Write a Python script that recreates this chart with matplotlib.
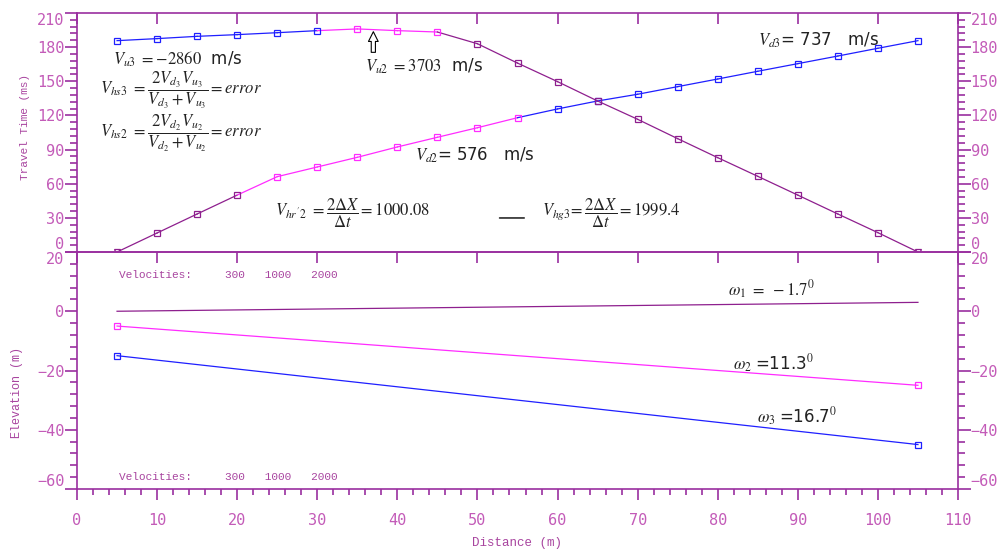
import numpy as np
import matplotlib
matplotlib.use('Agg')
from matplotlib import pyplot as plt
from matplotlib.ticker import MultipleLocator


# Travel time data (ms) for the forward shot (at 5 m) and reverse shot (at 105 m)
distance = [5, 10, 15, 20, 25, 30, 35, 40, 45, 50, 55, 60, 65, 70, 75, 80, 85, 90, 95, 100, 105]
time_forward = [0, 16.7, 33.4, 50, 66.2, 74.7, 83.2, 92.3, 100.8, 109.2, 118, 125.7, 132.7,
                138.6, 145.3, 152, 158.8, 165.5, 172.2, 179, 185.7]
time_reverse = [185.7, 187.5, 189.5, 191, 192.7, 194.5, 196, 194.5, 193.3, 183, 166, 149.7,
                132.7, 116.6, 99.6, 82.9, 66.5, 50, 33.4, 17, 0]
# layer assigned to each pick (1 = direct, 2 = first refractor, 3 = second refractor)
layer_forward = [1, 1, 1, 1, 2, 2, 2, 2, 2, 2, 2, 3, 3, 3, 3, 3, 3, 3, 3, 3, 3]
layer_reverse = [3, 3, 3, 3, 3, 3, 2, 2, 2, 1, 1, 1, 1, 1, 1, 1, 1, 1, 1, 1, 1]

# Elevation model (m)
elev_x = [5, 105]
elev_surface = [0, 3]
elev_layer2 = [-5, -25]
elev_layer3 = [-15, -45]

AXIS_COLOR = '#9a2f9f'
TICK_COLOR = '#c35bb8'
LABEL_COLOR = '#a8449f'
layer_colors = {1: '#8e1f8e', 2: '#ff2cff', 3: '#1f1fff'}

plt.rcParams['mathtext.fontset'] = 'stix'

fig = plt.figure(figsize=(9.98, 5.49), dpi=100)
ax_t = fig.add_axes([77 / 998, (549 - 252) / 549, 881 / 998, 239 / 549])
ax_e = fig.add_axes([77 / 998, (549 - 489) / 549, 881 / 998, 237 / 549])


def drawCurve(ax, x, t, layers):
  # segment colour follows the layer of its right-hand pick
  for i in range(len(x) - 1):
    ax.plot(x[i:i + 2], t[i:i + 2], color=layer_colors[layers[i + 1]], lw=0.9, zorder=2)
  for xi, ti, li in zip(x, t, layers):
    mk = 'v' if ti == 0 else 's'
    ax.plot(xi, ti, marker=mk, ms=5, mfc='none', mec=layer_colors[li], mew=0.9,
            clip_on=False, zorder=3)


drawCurve(ax_t, distance, time_forward, layer_forward)
drawCurve(ax_t, distance, time_reverse, layer_reverse)

ax_e.plot(elev_x, elev_surface, color=layer_colors[1], lw=0.9)
ax_e.plot(elev_x, elev_layer2, color=layer_colors[2], lw=0.9, marker='s', ms=5, mfc='none', mew=0.9)
ax_e.plot(elev_x, elev_layer3, color=layer_colors[3], lw=0.9, marker='s', ms=5, mfc='none', mew=0.9)

# axes styling
for ax in (ax_t, ax_e):
  ax.set_xlim(0, 110)
  ax.xaxis.set_major_locator(MultipleLocator(10))
  for sp in ax.spines.values():
    sp.set_color(AXIS_COLOR)
    sp.set_linewidth(1.2)
  ax.tick_params(axis='y', which='both', left=True, right=True, labelleft=True, labelright=True,
                 direction='out', color=AXIS_COLOR, labelcolor=TICK_COLOR, width=1.2)
  ax.tick_params(axis='y', which='major', length=9, pad=0)
  ax.tick_params(axis='y', which='minor', length=5)

ax_t.set_ylim(0, 210)
ax_t.set_yticks(np.arange(0, 211, 30))
ax_t.yaxis.set_minor_locator(MultipleLocator(6))
ax_t.tick_params(axis='x', which='major', top=True, bottom=False, labelbottom=False,
                 direction='in', length=8, color=AXIS_COLOR, width=1.2)
ax_t.spines['bottom'].set_visible(False)

ax_e.set_ylim(-60, 20)
ax_e.set_yticks(np.arange(-60, 21, 20))
ax_e.yaxis.set_minor_locator(MultipleLocator(4))
ax_e.xaxis.set_minor_locator(MultipleLocator(2))
ax_e.tick_params(axis='x', which='both', top=False, bottom=True, direction='out',
                 color=AXIS_COLOR, width=1.2, labelcolor=TICK_COLOR, labelsize=11)
ax_e.tick_params(axis='x', which='major', length=8, pad=9)
ax_e.tick_params(axis='x', which='minor', length=4)
for lab in ax_e.get_xticklabels():
  lab.set_family('DejaVu Sans Mono')

# ticks hanging down from the shared border
sec = ax_e.secondary_xaxis('top')
sec.set_xticks(np.arange(0, 111, 10))
sec.tick_params(axis='x', direction='in', length=8, width=1.2, color=AXIS_COLOR, labeltop=False)
sec.spines['top'].set_color(AXIS_COLOR)
sec.spines['top'].set_linewidth(1.2)

# nudge the end labels inside the frame like the original
for ax in (ax_t, ax_e):
  ticks = ax.yaxis.get_major_ticks()
  for tk in ticks:
    tk.label1.set_family('DejaVu Sans Mono')
    tk.label2.set_family('DejaVu Sans Mono')
    tk.label1.set_fontsize(11)
    tk.label2.set_fontsize(11)
  ticks[0].label1.set_va('bottom')
  ticks[0].label2.set_va('bottom')
  ticks[-1].label1.set_va('top')
  ticks[-1].label2.set_va('top')

# axis titles
fig.text(25 / 998, 1 - 127 / 549, 'Travel Time (ms)', rotation=90, ha='center', va='center',
         family='Liberation Mono', fontsize=8, color=LABEL_COLOR)
fig.text(17 / 998, 1 - 392 / 549, 'Elevation (m)', rotation=90, ha='center', va='center',
         family='Liberation Mono', fontsize=8.5, color=LABEL_COLOR)
fig.text(517 / 998, 1 - 543 / 549, 'Distance (m)', ha='center', va='center',
         family='Liberation Mono', fontsize=9, color=LABEL_COLOR)

# annotations on the travel-time panel
txt = dict(color='#222222', fontsize=12, family='DejaVu Sans', ha='left', va='center')
ax_t.text(4.5, 169.6, r'$V_{u3}\ =-2860$  m/s', **txt)
ax_t.text(2.9, 142, r'$V_{hs3}\ =\dfrac{2V_{d_3}V_{u_3}}{V_{d_3}+V_{u_3}}=error$', **txt)
ax_t.text(2.9, 104.6, r'$V_{hs2}\ =\dfrac{2V_{d_2}V_{u_2}}{V_{d_2}+V_{u_2}}=error$', **txt)
ax_t.text(36, 163.4, r'$V_{u2}\ =3703$  m/s', **txt)
ax_t.text(85, 186, r'$V_{d3}$= 737   m/s', **txt)
ax_t.text(42.2, 85.2, r'$V_{d2}$= 576   m/s', **txt)
ax_t.text(24.7, 34.3, r"$V_{hr'2}\ =\dfrac{2\Delta X}{\Delta t}=1000.08$", **txt)
ax_t.text(58, 34.3, r'$V_{hg3}\!=\dfrac{2\Delta X}{\Delta t}=1999.4$', **txt)
ax_t.annotate('', xy=(56.2, 29.9), xytext=(52.4, 29.9),
              arrowprops=dict(arrowstyle='-', color='black', lw=1))
ax_t.annotate('', xy=(37, 196), xytext=(37, 173),
              arrowprops=dict(arrowstyle='simple,head_width=0.7,head_length=0.7,tail_width=0.3',
                              fc='white', ec='black', lw=0.8))

# annotations on the elevation panel
vel = dict(color=LABEL_COLOR, fontsize=8, family='Liberation Mono', ha='left', va='center')
ax_e.text(5.2, 12.2, 'Velocities:     300   1000   2000', **vel)
ax_e.text(5.2, -56, 'Velocities:     300   1000   2000', **vel)
ax_e.text(81.3, 7.4, r'$\omega_1\ =\ -1.7^0$', **txt)
ax_e.text(81.9, -17.6, r'$\omega_2\ $=11.3$^0$', **txt)
ax_e.text(84.9, -35.5, r'$\omega_3\ $=16.7$^0$', **txt)

fig.savefig('out.png', dpi=100)
